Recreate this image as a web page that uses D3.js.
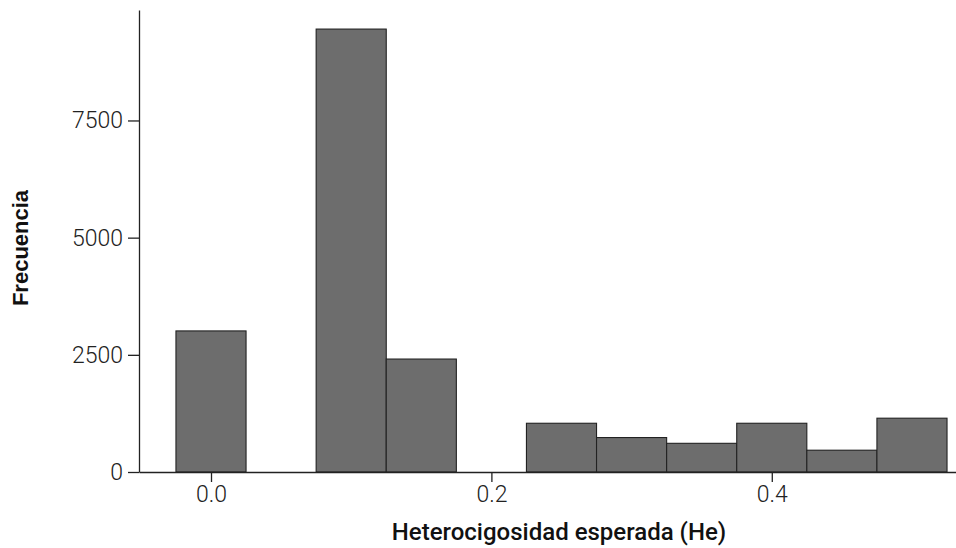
<!DOCTYPE html>
<html>
<head>
<meta charset="utf-8">
<script src="https://cdn.jsdelivr.net/npm/d3@7"></script>
<style>
  body { margin: 0; background: #fff; }
  svg { display: block; }
</style>
</head>
<body>
<svg id="chart" width="956" height="548"></svg>
<script>
// Histogram of expected heterozygosity (bins of width 0.05)
const binStarts = [-0.025, 0.025, 0.075, 0.125, 0.175, 0.225, 0.275, 0.325, 0.375, 0.425, 0.475];
const binWidth = 0.05;
const counts = [3010, 0, 9450, 2410, 0, 1040, 735, 612, 1040, 465, 1148];
const xTicks = [0.0, 0.2, 0.4];
const xTickLabels = ["0.0", "0.2", "0.4"];
const yTicks = [0, 2500, 5000, 7500];

const svg = d3.select("#chart");

const x = d3.scaleLinear().domain([-0.05136, 0.5314]).range([139, 956]);
const y = d3.scaleLinear().domain([0, 9857]).range([472, 10]);

const bins = binStarts.map((s, i) => ({ x0: s, x1: s + binWidth, n: counts[i] }))
  .filter(d => d.n > 0);

svg.append("g").selectAll("rect")
  .data(bins)
  .join("rect")
  .attr("x", d => x(d.x0))
  .attr("y", d => y(d.n))
  .attr("width", d => x(d.x1) - x(d.x0))
  .attr("height", d => y(0) - y(d.n))
  .attr("fill", "#6d6d6d")
  .attr("stroke", "#222")
  .attr("stroke-width", 1.1);

const xAxis = svg.append("g")
  .attr("transform", `translate(0,${y(0)})`)
  .call(d3.axisBottom(x).tickValues(xTicks)
    .tickFormat((d, i) => xTickLabels[i])
    .tickSize(10).tickSizeOuter(0).tickPadding(4));

const yAxis = svg.append("g")
  .attr("transform", `translate(${x.range()[0]},0)`)
  .call(d3.axisLeft(y).tickValues(yTicks)
    .tickFormat(d3.format("d"))
    .tickSize(11).tickSizeOuter(0).tickPadding(5));

[xAxis, yAxis].forEach(g => {
  g.selectAll("path.domain").attr("stroke", "#222").attr("stroke-width", 1.3);
  g.selectAll(".tick line").attr("stroke", "#222").attr("stroke-width", 1.3);
  g.selectAll(".tick text")
    .attr("fill", "#222")
    .style("font-family", "Roboto, sans-serif")
    .style("font-weight", 300)
    .style("font-size", "23px");
});

svg.append("text")
  .attr("x", 559)
  .attr("y", 540)
  .attr("text-anchor", "middle")
  .attr("fill", "#111")
  .style("font-family", "Roboto, sans-serif")
  .style("font-weight", 500)
  .style("font-size", "24px")
  .text("Heterocigosidad esperada (He)");

svg.append("text")
  .attr("transform", "translate(28,248) rotate(-90)")
  .attr("text-anchor", "middle")
  .attr("fill", "#111")
  .style("font-family", "'Liberation Sans', Arial, sans-serif")
  .style("font-weight", 700)
  .style("font-size", "22px")
  .text("Frecuencia");
</script>
</body>
</html>
